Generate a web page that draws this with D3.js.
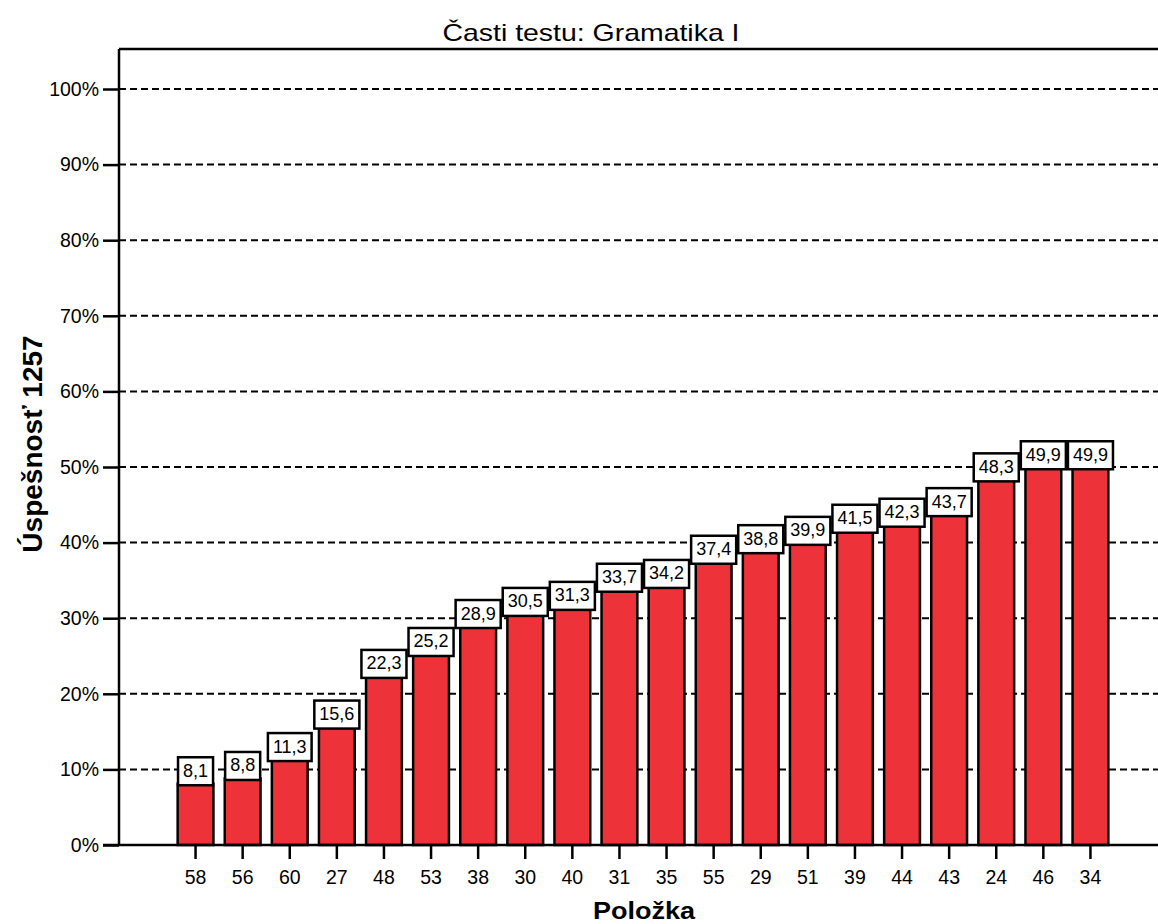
<!DOCTYPE html>
<html lang='sk'>
<head>
  <meta charset='UTF-8'>
  <title>Časti testu: Gramatika I</title>
  <script src='https://d3js.org/d3.v7.min.js'></script>
  <style>
    body { margin: 0; background: #fff; }
    svg text { font-family: Arial, 'Liberation Sans', sans-serif; fill: #000; }
  </style>
</head>
<body>
  <svg width='1158' height='924'></svg>

  <script>
    var items = ['58', '56', '60', '27', '48', '53', '38', '30', '40', '31',
                 '35', '55', '29', '51', '39', '44', '43', '24', '46', '34'];
    var values = [8.1, 8.8, 11.3, 15.6, 22.3, 25.2, 28.9, 30.5, 31.3, 33.7,
                  34.2, 37.4, 38.8, 39.9, 41.5, 42.3, 43.7, 48.3, 49.9, 49.9];
    var yTicks = [0, 10, 20, 30, 40, 50, 60, 70, 80, 90, 100];
    var title = 'Časti testu: Gramatika I';
    var yTitle = 'Úspešnosť 1257';
    var xTitle = 'Položka';

    var svg = d3.select('svg'),
      margin = {top: 49, right: 0, bottom: 79, left: 119},
      width = +svg.attr('width') - margin.left - margin.right,
      height = +svg.attr('height') - margin.top - margin.bottom,
      g = svg.append('g').attr('transform', 'translate(' + margin.left + ',' + margin.top + ')');

    var data = items.map((d, i) => ({item: d, value: values[i]}));

    var x = d3.scaleBand()
      .domain(items)
      .range([53, 995])
      .paddingInner(0.24)
      .paddingOuter(0.12);
    var y = d3.scaleLinear()
      .domain([0, 100])
      .range([height, 40]);

    var fmt = v => d3.format('.1f')(v).replace('.', ',');

    // dashed grid
    g.append('g').selectAll('line')
      .data(yTicks.filter(t => t > 0))
      .enter().append('line')
      .attr('x1', 0).attr('x2', width)
      .attr('y1', d => y(d)).attr('y2', d => y(d))
      .attr('stroke', '#000')
      .attr('stroke-width', 2)
      .attr('stroke-dasharray', '7,4');

    // y axis
    var yAxis = g.append('g')
      .call(d3.axisLeft(y).tickValues(yTicks).tickFormat(d => d + '%').tickSize(16).tickPadding(4));
    yAxis.select('.domain').remove();
    yAxis.selectAll('line').attr('stroke', '#000').attr('stroke-width', 2.5);
    yAxis.selectAll('text').attr('font-size', 19.5).attr('fill', '#000')
      .attr('font-family', 'Arial, Liberation Sans, sans-serif');

    // x axis
    var xAxis = g.append('g')
      .attr('transform', 'translate(0,' + height + ')')
      .call(d3.axisBottom(x).tickSize(14).tickPadding(11));
    xAxis.select('.domain').remove();
    xAxis.selectAll('line').attr('stroke', '#000').attr('stroke-width', 2.5);
    xAxis.selectAll('text').attr('font-size', 19.5).attr('fill', '#000')
      .attr('font-family', 'Arial, Liberation Sans, sans-serif');

    // bars
    g.append('g').selectAll('rect')
      .data(data)
      .enter().append('rect')
      .attr('x', d => x(d.item))
      .attr('y', d => y(d.value))
      .attr('width', x.bandwidth())
      .attr('height', d => height - y(d.value))
      .attr('fill', '#ee323a')
      .attr('stroke', '#000')
      .attr('stroke-width', 2.5);

    // frame
    g.append('line').attr('x1', 0).attr('x2', 0).attr('y1', 0).attr('y2', height)
      .attr('stroke', '#000').attr('stroke-width', 2.5);
    g.append('line').attr('x1', 0).attr('x2', width).attr('y1', 0).attr('y2', 0)
      .attr('stroke', '#000').attr('stroke-width', 2.5);
    g.append('line').attr('x1', -16).attr('x2', width).attr('y1', height).attr('y2', height)
      .attr('stroke', '#000').attr('stroke-width', 2.5);

    // value labels
    var lab = g.append('g').selectAll('g')
      .data(data)
      .enter().append('g')
      .attr('transform', d => 'translate(' + (x(d.item) + x.bandwidth() / 2) + ',' + (y(d.value) + 1.5) + ')');
    lab.append('rect')
      .attr('fill', '#fff')
      .attr('stroke', '#000')
      .attr('stroke-width', 2.5);
    var labText = lab.append('text')
      .attr('text-anchor', 'middle')
      .attr('y', -8.5)
      .attr('font-size', 18)
      .text(d => fmt(d.value));
    labText.each(function(d) {
      var w = this.getComputedTextLength() + 10;
      d3.select(this.parentNode).select('rect')
        .attr('x', -w / 2).attr('y', -28).attr('width', w).attr('height', 28);
    });

    // titles (reference glyphs are a bit wider than Arial, hence textLength)
    svg.append('text')
      .attr('x', 591).attr('y', 41)
      .attr('text-anchor', 'middle')
      .attr('font-size', 24)
      .attr('textLength', 297)
      .attr('lengthAdjust', 'spacingAndGlyphs')
      .text(title);
    svg.append('text')
      .attr('transform', 'translate(42,444) rotate(-90)')
      .attr('text-anchor', 'middle')
      .attr('font-size', 28)
      .attr('font-weight', 'bold')
      .text(yTitle);
    svg.append('text')
      .attr('x', 644).attr('y', 919)
      .attr('text-anchor', 'middle')
      .attr('font-size', 24)
      .attr('font-weight', 'bold')
      .attr('textLength', 102)
      .attr('lengthAdjust', 'spacingAndGlyphs')
      .text(xTitle);
  </script>
</body>
</html>
